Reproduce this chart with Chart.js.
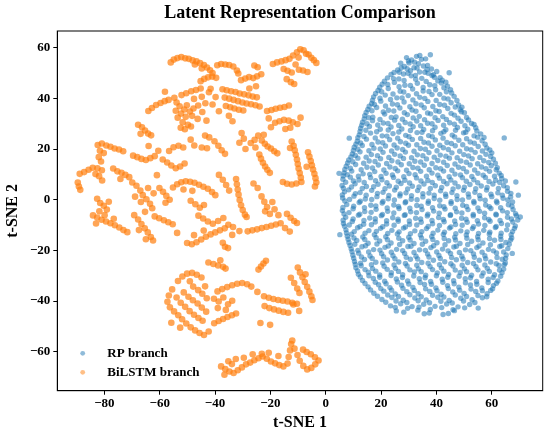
<!DOCTYPE html>
<html>
<head>
<meta charset="utf-8">
<script src="https://cdn.jsdelivr.net/npm/chart.js@4.4.1/dist/chart.umd.min.js"></script>
<style>
html,body{margin:0;padding:0;background:#fff;}
#wrap{width:550px;height:435px;}
</style>
</head>
<body>
<div id="wrap"><canvas id="c" width="550" height="435" style="width:550px;height:435px"></canvas></div>
<script>
const seriesNames = ['RP branch', 'BiLSTM branch'];
const xTickValues = [-80, -60, -40, -20, 0, 20, 40, 60];
const yTickValues = [-60, -40, -20, 0, 20, 40, 60];

const rpPoints = [
[29.2,56.1],[31.0,55.2],[32.8,56.6],[34.6,55.4],[30.1,54.0],[33.5,53.7],[28.4,52.6],[31.9,52.1],[35.3,52.8],[30.6,50.9],[33.9,50.4],
[27.1,53.9],[36.8,53.0],[38.2,51.6],[26.0,51.2],
[24.7,50.2],[28.1,49.6],[37.0,49.9],[40.1,50.6],
[22.3,48.1],[26.4,47.7],[30.9,48.9],[34.7,47.9],[39.3,48.3],[42.1,47.2],
[20.4,45.6],[24.8,46.3],[28.6,45.2],[33.1,46.0],[37.6,45.4],[41.8,46.1],[44.0,44.8],
[18.9,43.1],[22.6,43.9],[26.9,42.8],[31.4,43.7],[35.2,42.9],[39.7,43.4],[43.6,42.6],
[17.3,40.6],[21.5,41.3],[25.7,40.2],[29.8,41.1],[34.0,40.4],[38.4,41.5],[42.7,40.1],[46.4,40.8],
[16.6,38.0],[19.9,38.9],[24.1,37.8],[28.3,38.6],[32.6,37.9],[36.9,38.8],[41.2,37.6],[45.3,38.3],[48.0,37.4],
[15.2,35.6],[18.4,36.4],[22.7,35.3],[26.8,36.2],[31.2,35.4],[35.6,36.3],[39.8,35.1],[44.1,36.0],[48.6,35.5],[50.1,34.3],
[14.1,33.2],[17.0,32.6],[21.3,33.8],[25.4,32.7],[29.5,33.6],[33.8,32.9],[37.9,33.9],[42.3,32.8],[46.5,33.4],[50.9,32.5],
[13.3,30.6],[16.9,31.2],[20.8,30.3],[24.9,31.4],[28.7,30.5],[32.9,31.1],[36.8,30.2],[40.6,31.3],[44.8,30.4],[48.9,31.0],[52.7,30.1],
[12.6,28.2],[15.8,28.9],[19.7,27.8],[23.6,28.7],[27.5,27.9],[31.6,28.8],[35.4,27.7],[39.5,28.6],[43.4,27.6],[47.6,28.5],[51.3,27.8],[54.2,28.4],
[12.1,25.6],[16.2,26.3],[20.4,25.2],[24.3,26.1],[28.9,25.4],[33.0,26.5],[37.2,25.3],[41.6,26.2],[45.7,25.5],[49.8,26.4],[53.6,25.2],[56.0,26.0],
[11.4,23.1],[14.7,23.9],[18.9,22.8],[23.1,23.7],[27.0,22.9],[31.3,23.8],[35.5,22.7],[39.6,23.6],[43.8,22.6],[48.1,23.5],[52.2,22.8],[56.5,23.3],
[10.3,20.7],[13.2,21.4],[17.4,20.3],[21.6,21.2],[25.8,20.4],[29.9,21.5],[34.2,20.2],[38.4,21.1],[42.5,20.5],[46.8,21.3],[50.9,20.1],[55.1,21.0],[58.2,20.4],
[9.6,18.1],[12.4,18.9],[16.5,17.8],[20.7,18.7],[24.9,17.9],[28.8,18.8],[33.1,17.7],[37.3,18.6],[41.4,17.6],[45.6,18.5],[49.9,17.8],[54.0,18.7],[57.9,17.9],[60.0,18.5],
[8.3,15.7],[11.6,16.4],[15.7,15.3],[19.8,16.2],[23.9,15.4],[28.1,16.3],[32.2,15.2],[36.4,16.1],[40.5,15.5],[44.7,16.4],[48.8,15.3],[52.9,16.2],[57.1,15.4],[60.6,16.0],
[7.4,13.2],[10.8,13.9],[14.9,12.8],[19.0,13.7],[23.2,12.9],[27.3,13.8],[31.5,12.7],[35.6,13.6],[39.8,12.6],[43.9,13.5],[48.0,12.8],[52.2,13.7],[56.3,12.9],[59.8,13.4],[62.0,12.6],
[6.6,10.6],[9.4,11.3],[13.5,10.2],[17.7,11.1],[21.8,10.4],[26.0,11.4],[30.1,10.3],[34.3,11.2],[38.4,10.5],[42.6,11.3],[46.7,10.1],[50.9,11.0],[55.0,10.4],[59.2,11.2],[62.7,10.5],
[6.2,8.1],[8.9,8.9],[12.0,7.8],[16.2,8.7],[20.3,7.9],[24.5,8.8],[28.6,7.7],[32.8,8.6],[36.9,7.6],[41.1,8.5],[45.2,7.8],[49.4,8.7],[53.5,7.9],[57.7,8.8],[61.4,7.7],[63.6,8.4],
[5.9,5.6],[10.6,6.3],[14.7,5.2],[18.9,6.1],[23.0,5.4],[27.2,6.4],[31.3,5.3],[35.5,6.2],[39.6,5.5],[43.8,6.3],[47.9,5.1],[52.1,6.0],[56.2,5.4],[60.4,6.2],[64.3,5.5],
[6.8,3.1],[8.3,3.9],[12.4,2.8],[16.6,3.7],[20.7,2.9],[24.9,3.8],[29.0,2.7],[33.2,3.6],[37.3,2.6],[41.5,3.5],[45.6,2.8],[49.8,3.7],[53.9,2.9],[58.1,3.8],[62.2,2.7],[65.7,3.3],
[6.1,0.7],[10.2,1.4],[14.3,0.3],[18.5,1.2],[22.6,0.4],[26.8,1.5],[30.9,0.2],[35.1,1.1],[39.2,0.5],[43.4,1.3],[47.5,0.1],[51.7,1.0],[55.8,0.4],[60.0,1.2],[64.1,0.6],[66.8,1.1],
[7.6,-1.9],[12.1,-1.1],[16.3,-2.2],[20.4,-1.3],[24.6,-2.1],[28.7,-1.2],[32.9,-2.3],[37.0,-1.4],[41.2,-2.4],[45.3,-1.5],[49.5,-2.2],[53.6,-1.3],[57.8,-2.1],[61.9,-1.2],[66.0,-2.0],
[6.0,-4.3],[9.9,-3.6],[14.1,-4.7],[18.2,-3.8],[22.4,-4.6],[26.5,-3.5],[30.7,-4.8],[34.8,-3.9],[39.0,-4.5],[43.1,-3.7],[47.3,-4.8],[51.4,-3.9],[55.6,-4.6],[59.7,-3.5],[63.9,-4.4],[67.7,-3.9],
[7.2,-6.9],[11.8,-6.1],[15.9,-7.2],[20.1,-6.3],[24.2,-7.1],[28.4,-6.2],[32.5,-7.3],[36.7,-6.4],[40.8,-7.0],[45.0,-6.2],[49.1,-7.3],[53.3,-6.4],[57.4,-7.1],[61.6,-6.0],[65.7,-6.9],[68.9,-6.3],
[6.4,-9.4],[9.6,-8.6],[13.7,-9.7],[17.9,-8.8],[22.0,-9.6],[26.2,-8.5],[30.3,-9.8],[34.5,-8.9],[38.6,-9.5],[42.8,-8.7],[46.9,-9.8],[51.1,-8.9],[55.2,-9.6],[59.4,-8.5],[63.5,-9.4],[67.6,-8.8],
[7.3,-11.9],[11.5,-11.1],[15.6,-12.2],[19.8,-11.3],[23.9,-12.1],[28.1,-11.2],[32.2,-12.3],[36.4,-11.4],[40.5,-12.0],[44.7,-11.2],[48.8,-12.3],[53.0,-11.4],[57.1,-12.1],[61.3,-11.0],[65.4,-11.9],[68.2,-11.3],
[7.8,-14.4],[9.3,-13.6],[13.4,-14.7],[17.6,-13.8],[21.7,-14.6],[25.9,-13.5],[30.0,-14.8],[34.2,-13.9],[38.3,-14.5],[42.5,-13.7],[46.6,-14.8],[50.8,-13.9],[54.9,-14.6],[59.1,-13.5],[63.2,-14.4],[67.0,-13.8],
[8.4,-16.9],[11.2,-16.1],[15.3,-17.2],[19.5,-16.3],[23.6,-17.1],[27.8,-16.2],[31.9,-17.3],[36.1,-16.4],[40.2,-17.0],[44.4,-16.2],[48.5,-17.3],[52.7,-16.4],[56.8,-17.1],[61.0,-16.0],[65.1,-16.9],[66.8,-15.9],
[9.2,-19.4],[13.1,-18.6],[17.3,-19.7],[21.4,-18.8],[25.6,-19.6],[29.7,-18.5],[33.9,-19.8],[38.0,-18.9],[42.2,-19.5],[46.3,-18.7],[50.5,-19.8],[54.6,-18.9],[58.8,-19.6],[62.9,-18.5],[65.8,-19.3],
[9.8,-21.9],[11.9,-21.1],[16.0,-22.2],[20.2,-21.3],[24.3,-22.1],[28.5,-21.2],[32.6,-22.3],[36.8,-21.4],[40.9,-22.0],[45.1,-21.2],[49.2,-22.3],[53.4,-21.4],[57.5,-22.1],[61.7,-21.0],[65.2,-21.8],
[10.4,-24.4],[14.0,-23.6],[18.1,-24.7],[22.3,-23.8],[26.4,-24.6],[30.6,-23.5],[34.7,-24.8],[38.9,-23.9],[43.0,-24.5],[47.2,-23.7],[51.3,-24.8],[55.5,-23.9],[59.6,-24.6],[63.8,-23.5],[64.9,-25.0],
[10.9,-26.9],[12.8,-26.1],[16.9,-27.2],[21.1,-26.3],[25.2,-27.1],[29.4,-26.2],[33.5,-27.3],[37.7,-26.4],[41.8,-27.0],[46.0,-26.2],[50.1,-27.3],[54.3,-26.4],[58.4,-27.1],[62.6,-26.0],[64.3,-27.4],
[11.8,-29.4],[15.4,-28.6],[19.5,-29.7],[23.7,-28.8],[27.8,-29.6],[32.0,-28.5],[36.1,-29.8],[40.3,-28.9],[44.4,-29.5],[48.6,-28.7],[52.7,-29.8],[56.9,-28.9],[61.0,-29.6],[63.7,-28.8],
[13.3,-31.9],[17.2,-31.1],[21.3,-32.2],[25.5,-31.3],[29.6,-32.1],[33.8,-31.2],[37.9,-32.3],[42.1,-31.4],[46.2,-32.0],[50.4,-31.2],[54.5,-32.3],[58.7,-31.4],[62.2,-32.1],
[15.3,-34.4],[19.1,-33.6],[23.2,-34.7],[27.4,-33.8],[31.5,-34.6],[35.7,-33.5],[39.8,-34.8],[44.0,-33.9],[48.1,-34.5],[52.3,-33.7],[56.4,-34.8],[60.6,-33.9],
[17.4,-36.9],[21.0,-36.1],[25.1,-37.2],[29.3,-36.3],[33.4,-37.1],[37.6,-36.2],[41.7,-37.3],[45.9,-36.4],[50.0,-37.0],[54.2,-36.2],[58.3,-37.1],[59.6,-35.8],
[20.3,-39.4],[23.9,-38.6],[28.0,-39.7],[32.2,-38.8],[36.3,-39.6],[40.5,-38.5],[44.6,-39.8],[48.8,-38.9],[52.9,-39.5],[56.6,-38.7],
[23.4,-41.9],[27.1,-41.1],[31.2,-42.2],[35.4,-41.3],[39.5,-42.1],[43.7,-41.2],[47.8,-42.3],[52.0,-41.4],
[28.2,-44.4],[33.3,-43.6],[37.4,-44.7],[42.4,-45.3],[46.5,-43.8],[25.5,-43.9],
[4.8,10.4],[5.1,-13.8],[69.6,1.8],[68.7,7.0],[70.3,-6.8],[67.4,-21.2],[55.1,-42.8],[37.8,57.2],[44.6,50.1],[8.5,24.3],[64.5,24.4],
[29.9,54.8],[32.1,54.3],[34.0,56.9],[36.1,55.6],
[27.3,52.0],[29.4,51.7],[33.0,52.0],[36.6,51.4],[38.9,49.3],
[23.6,49.4],[26.6,50.3],[29.7,49.9],[32.4,49.1],[35.8,50.3],[38.4,49.0],[41.3,48.2],
[21.2,46.8],[24.5,47.8],[28.3,47.1],[32.5,47.6],[36.3,46.7],[40.5,46.9],[43.4,46.4],
[19.5,44.4],[22.4,45.5],[26.5,44.6],[30.6,45.1],[35.2,44.3],[39.4,45.0],[42.7,44.2],[45.1,43.4],
[18.0,41.9],[20.2,42.6],[24.3,41.7],[28.2,42.5],[32.8,41.8],[37.3,42.7],[41.2,41.6],[45.5,42.1],
[16.9,39.3],[19.6,40.1],[23.4,39.6],[27.6,40.2],[31.5,39.4],[35.8,40.0],[39.9,39.2],[44.2,39.8],[47.4,39.2],
[15.7,36.9],[17.6,37.6],[21.6,37.0],[25.9,37.5],[30.4,36.7],[34.5,37.4],[38.7,36.8],[42.9,37.3],[46.8,36.6],[49.2,36.5],
[14.6,34.4],[16.7,35.1],[20.8,34.6],[24.6,35.0],[28.4,34.3],[32.6,34.9],[36.8,34.2],[41.0,34.8],[45.3,34.1],[49.0,34.7],
[13.9,31.9],[15.5,32.4],[19.6,31.7],[23.7,32.5],[27.7,31.8],[31.6,32.3],[35.7,31.6],[39.5,32.4],[43.6,31.7],[47.8,32.2],[51.6,31.5],
[13.0,29.4],[14.9,30.0],[18.8,29.5],[22.5,30.1],[26.4,29.3],[30.5,29.9],[34.3,29.2],[38.4,30.0],[42.6,29.4],[46.5,29.8],[50.3,29.2],[53.6,29.7],
[12.4,26.9],[14.5,27.4],[18.4,26.8],[22.6,27.5],[26.4,26.7],[30.6,27.3],[34.8,26.6],[38.6,27.2],[42.7,26.8],[46.9,27.4],[50.6,26.6],[54.6,27.1],
[11.6,24.5],[13.8,25.0],[17.9,24.4],[22.1,25.1],[26.0,24.3],[30.1,24.9],[34.3,24.2],[38.5,24.9],[42.4,24.3],[46.6,24.8],[50.9,24.1],[54.9,24.7],[57.2,24.6],
[10.9,21.9],[12.6,22.4],[16.7,21.8],[20.6,22.5],[24.7,21.6],[28.9,22.3],[32.9,21.7],[37.1,22.4],[41.2,21.5],[45.4,22.2],[49.5,21.7],[53.7,22.3],[57.6,21.9],
[10.0,19.4],[11.6,19.9],[15.6,19.3],[19.7,20.0],[23.8,19.2],[27.8,19.8],[31.9,19.1],[36.0,19.9],[40.2,19.3],[44.3,19.8],[48.4,19.1],[52.5,19.7],[56.6,19.2],[59.3,19.6],
[9.1,16.9],[10.7,17.5],[14.6,16.8],[18.7,17.4],[22.8,16.7],[26.9,17.3],[31.0,16.6],[35.1,17.4],[39.2,16.8],[43.4,17.2],[47.5,16.6],[51.6,17.3],[55.7,16.7],[59.6,17.1],
[7.9,14.5],[9.8,15.0],[13.7,14.4],[17.8,15.1],[22.0,14.3],[26.1,14.9],[30.2,14.2],[34.3,14.9],[38.4,14.3],[42.6,14.8],[46.7,14.1],[50.8,14.8],[54.9,14.2],[58.9,14.7],[61.3,14.4],
[6.9,11.9],[8.9,12.4],[12.8,11.8],[16.9,12.5],[21.0,11.7],[25.1,12.3],[29.2,11.6],[33.3,12.4],[37.4,11.8],[41.5,12.2],[45.6,11.6],[49.7,12.3],[53.8,11.7],[57.9,12.2],[61.6,11.8],
[6.3,9.4],[7.8,9.9],[11.8,9.3],[15.9,10.0],[20.0,9.2],[24.1,9.8],[28.2,9.1],[32.3,9.9],[36.4,9.3],[40.5,9.7],[44.6,9.1],[48.7,9.8],[52.8,9.2],[56.9,9.7],[61.0,9.3],[63.4,9.6],
[7.2,6.9],[10.0,7.4],[13.9,6.8],[18.0,7.5],[22.1,6.7],[26.2,7.3],[30.3,6.6],[34.4,7.4],[38.5,6.8],[42.6,7.2],[46.7,6.6],[50.8,7.3],[54.9,6.7],[59.0,7.2],[62.9,6.8],[64.9,7.4],
[6.4,4.5],[9.3,5.0],[13.2,4.4],[17.3,5.1],[21.4,4.3],[25.5,4.9],[29.6,4.2],[33.7,5.0],[37.8,4.4],[41.9,4.8],[46.0,4.2],[50.1,4.9],[54.2,4.3],[58.3,4.8],[62.4,4.4],[65.6,4.7],
[6.0,1.9],[10.7,2.4],[14.6,1.8],[18.7,2.5],[22.8,1.7],[26.9,2.3],[31.0,1.6],[35.1,2.4],[39.2,1.8],[43.3,2.2],[47.4,1.6],[51.5,2.3],[55.6,1.7],[59.7,2.2],[63.8,1.8],[66.9,2.5],
[6.9,-0.5],[8.6,0.1],[12.5,-0.6],[16.6,0.1],[20.7,-0.7],[24.8,-0.1],[28.9,-0.8],[33.0,0.0],[37.1,-0.6],[41.2,-0.2],[45.3,-0.8],[49.4,-0.1],[53.5,-0.7],[57.6,-0.2],[61.7,-0.6],[65.8,-0.1],[67.5,-0.9],
[6.2,-3.1],[10.1,-2.6],[14.0,-3.2],[18.1,-2.5],[22.2,-3.3],[26.3,-2.7],[30.4,-3.4],[34.5,-2.6],[38.6,-3.2],[42.7,-2.8],[46.8,-3.4],[50.9,-2.7],[55.0,-3.3],[59.1,-2.8],[63.2,-3.2],[67.3,-2.6],
[6.6,-5.6],[8.4,-5.1],[12.3,-5.7],[16.4,-5.0],[20.5,-5.8],[24.6,-5.2],[28.7,-5.9],[32.8,-5.1],[36.9,-5.7],[41.0,-5.3],[45.1,-5.9],[49.2,-5.2],[53.3,-5.8],[57.4,-5.3],[61.5,-5.7],[65.6,-5.1],[68.6,-5.5],
[6.3,-8.1],[9.9,-7.6],[13.8,-8.2],[17.9,-7.5],[22.0,-8.3],[26.1,-7.7],[30.2,-8.4],[34.3,-7.6],[38.4,-8.2],[42.5,-7.8],[46.6,-8.4],[50.7,-7.7],[54.8,-8.3],[58.9,-7.8],[63.0,-8.2],[67.1,-7.6],[69.4,-8.0],
[6.8,-10.5],[8.5,-10.0],[12.4,-10.6],[16.5,-9.9],[20.6,-10.7],[24.7,-10.1],[28.8,-10.8],[32.9,-10.0],[37.0,-10.6],[41.1,-10.2],[45.2,-10.8],[49.3,-10.1],[53.4,-10.7],[57.5,-10.2],[61.6,-10.6],[65.7,-10.0],[68.5,-10.4],
[7.5,-13.1],[10.3,-12.6],[14.2,-13.2],[18.3,-12.5],[22.4,-13.3],[26.5,-12.7],[30.6,-13.4],[34.7,-12.6],[38.8,-13.2],[42.9,-12.8],[47.0,-13.4],[51.1,-12.7],[55.2,-13.3],[59.3,-12.8],[63.4,-13.2],[67.5,-12.6],
[8.1,-15.6],[10.2,-15.1],[14.1,-15.7],[18.2,-15.0],[22.3,-15.8],[26.4,-15.2],[30.5,-15.9],[34.6,-15.1],[38.7,-15.7],[42.8,-15.3],[46.9,-15.9],[51.0,-15.2],[55.1,-15.8],[59.2,-15.3],[63.3,-15.7],[67.2,-15.1],
[8.8,-18.1],[10.5,-17.6],[14.4,-18.2],[18.5,-17.5],[22.6,-18.3],[26.7,-17.7],[30.8,-18.4],[34.9,-17.6],[39.0,-18.2],[43.1,-17.8],[47.2,-18.4],[51.3,-17.7],[55.4,-18.3],[59.5,-17.8],[63.6,-18.2],[66.3,-17.6],
[9.5,-20.5],[11.6,-20.0],[15.5,-20.6],[19.6,-19.9],[23.7,-20.7],[27.8,-20.1],[31.9,-20.8],[36.0,-20.0],[40.1,-20.6],[44.2,-20.2],[48.3,-20.8],[52.4,-20.1],[56.5,-20.7],[60.6,-20.2],[64.3,-20.6],
[10.1,-23.1],[12.9,-22.6],[16.8,-23.2],[20.9,-22.5],[25.0,-23.3],[29.1,-22.7],[33.2,-23.4],[37.3,-22.6],[41.4,-23.2],[45.5,-22.8],[49.6,-23.4],[53.7,-22.7],[57.8,-23.3],[61.9,-22.8],[65.0,-23.2],
[10.7,-25.6],[12.6,-25.1],[16.5,-25.7],[20.6,-25.0],[24.7,-25.8],[28.8,-25.2],[32.9,-25.9],[37.0,-25.1],[41.1,-25.7],[45.2,-25.3],[49.3,-25.9],[53.4,-25.2],[57.5,-25.8],[61.6,-25.3],[64.5,-25.7],
[11.5,-28.1],[14.2,-27.6],[18.1,-28.2],[22.2,-27.5],[26.3,-28.3],[30.4,-27.7],[34.5,-28.4],[38.6,-27.6],[42.7,-28.2],[46.8,-27.8],[50.9,-28.4],[55.0,-27.7],[59.1,-28.3],[62.8,-27.8],
[12.5,-30.5],[15.6,-30.0],[19.5,-30.6],[23.6,-29.9],[27.7,-30.7],[31.8,-30.1],[35.9,-30.8],[40.0,-30.0],[44.1,-30.6],[48.2,-30.2],[52.3,-30.8],[56.4,-30.1],[60.5,-30.7],[63.2,-30.2],
[14.2,-33.1],[17.9,-32.6],[21.8,-33.2],[25.9,-32.5],[30.0,-33.3],[34.1,-32.7],[38.2,-33.4],[42.3,-32.6],[46.4,-33.2],[50.5,-32.8],[54.6,-33.4],[58.7,-32.7],[61.7,-33.0],
[16.2,-35.6],[19.9,-35.1],[23.8,-35.7],[27.9,-35.0],[32.0,-35.8],[36.1,-35.2],[40.2,-35.9],[44.3,-35.1],[48.4,-35.7],[52.5,-35.3],[56.6,-35.9],[60.3,-35.2],
[18.7,-38.1],[22.4,-37.6],[26.3,-38.2],[30.4,-37.5],[34.5,-38.3],[38.6,-37.7],[42.7,-38.4],[46.8,-37.6],[50.9,-38.2],[55.0,-37.8],[58.2,-38.3],
[21.7,-40.5],[25.4,-40.0],[29.3,-40.6],[33.4,-39.9],[37.5,-40.7],[41.6,-40.1],[45.7,-40.8],[49.8,-40.0],[53.9,-40.6],
[25.1,-42.5],[29.6,-42.9],[33.7,-42.4],[37.8,-43.3],[41.9,-42.6],[46.0,-43.4],[50.2,-42.7],[44.3,-44.9],[35.6,-45.0]
];

const bilstmPoints = [
[-56.0,54.2],[-54.9,55.3],[-53.6,55.9],[-52.2,56.3],[-50.8,55.8],[-49.5,55.6],[-48.1,55.0],[-46.7,54.6],[-45.4,53.9],[-44.0,53.2],[-42.9,52.2],[-41.8,51.1],[-40.9,50.0],[-47.3,53.4],[-44.8,51.8],
[-39.2,53.1],[-37.8,53.6],[-36.3,53.4],[-34.9,53.2],[-33.4,52.6],[-32.1,51.0],[-31.6,49.8],
[-45.2,46.8],[-43.9,47.7],[-42.5,48.3],[-41.0,48.6],[-39.6,48.1],
[-30.6,47.2],[-29.1,47.8],[-27.7,48.4],[-26.2,48.0],[-24.8,48.7],[-23.3,49.5],[-24.6,52.3],[-25.8,53.0],
[-19.1,53.6],[-17.6,54.2],[-16.0,54.6],[-14.5,55.1],[-13.1,55.6],[-11.8,56.9],[-10.4,58.2],[-9.2,59.4],[-8.0,59.0],[-7.1,57.6],[-9.8,56.1],[-6.2,57.3],[-5.2,56.0],[-4.3,55.1],[-3.4,54.0],[-15.2,51.6],[-13.8,50.9],[-12.3,50.2],[-14.1,47.6],[-12.6,46.4],[-11.4,45.7],[-9.7,51.3],[-8.2,51.0],[-6.6,50.4],[-10.9,53.4],
[-64.1,35.0],[-62.8,36.2],[-61.3,37.4],[-59.7,38.2],[-58.2,38.9],[-56.8,39.4],[-58.1,42.6],
[-54.7,40.2],[-53.9,38.4],[-52.8,36.9],[-54.2,35.1],[-52.3,34.0],[-51.1,35.6],[-50.2,37.3],[-49.1,34.8],[-50.6,32.7],[-48.3,33.1],[-53.5,32.4],[-51.7,30.6],[-49.8,29.6],[-52.4,28.4],[-50.9,27.8],[-48.7,28.9],[-52.1,41.3],[-50.4,42.0],[-48.6,42.8],[-46.9,43.3],[-45.2,43.9],[-47.6,39.8],[-46.1,37.2],[-44.8,40.6],[-43.5,38.1],[-42.2,42.4],[-44.6,34.6],[-46.3,31.9],[-43.1,31.2],[-47.8,36.0],
[-67.8,29.6],[-66.4,28.6],[-65.3,27.3],[-64.2,26.1],[-63.1,25.4],[-66.9,26.0],[-64.0,21.2],
[-37.3,43.6],[-35.8,43.2],[-34.2,42.8],[-32.6,42.5],[-31.1,41.9],[-29.5,41.6],[-27.9,41.2],[-26.4,40.7],[-24.9,40.4],[-36.5,40.3],[-34.9,39.9],[-33.3,39.4],[-31.7,38.9],[-30.1,38.4],[-28.6,38.0],[-27.0,37.7],[-25.4,37.3],[-23.9,36.8],[-36.1,37.0],[-34.5,36.5],[-33.0,36.0],[-31.4,35.5],[-29.8,35.2],[-35.0,33.1],[-33.7,31.0],[-39.8,40.5],[-40.9,37.6],[-38.6,34.9],[-41.6,43.8],[-27.6,43.9],[-25.2,44.8],
[-21.2,35.0],[-19.6,35.4],[-18.1,35.9],[-16.5,36.3],[-14.9,36.6],[-13.3,37.2],
[-20.6,32.1],[-18.3,30.4],[-16.7,31.0],[-15.1,31.5],[-13.4,31.2],[-11.9,30.6],[-10.2,29.9],[-14.6,27.9],[-12.8,28.4],[-19.8,28.6],[-9.1,32.4],
[-27.1,22.4],[-25.7,23.6],[-24.4,25.3],[-23.1,23.4],[-22.0,22.1],[-21.0,21.0],[-19.8,20.2],[-18.6,19.1],[-17.5,18.3],[-22.4,25.6],[-25.4,20.6],[-29.0,20.0],
[-24.0,17.8],[-23.4,16.2],[-22.7,14.6],[-21.9,13.1],[-21.1,11.8],[-20.2,10.6],
[-12.3,23.0],[-11.6,21.3],[-11.2,19.5],[-10.8,17.7],[-10.4,15.9],[-10.1,14.1],[-9.8,12.3],[-9.4,10.5],[-9.0,8.7],[-8.8,7.0],[-10.6,6.4],[-12.3,6.0],[-14.0,6.3],[-15.5,7.0],[-12.9,20.4],
[-6.4,18.7],[-5.9,17.0],[-5.4,15.3],[-5.0,13.6],[-4.6,11.9],[-4.1,10.2],[-3.7,8.5],[-3.4,6.8],[-3.9,5.2],[-6.9,13.0],
[-82.4,21.6],[-80.9,22.2],[-79.3,21.4],[-77.8,20.9],[-76.3,20.2],[-74.7,19.8],[-73.2,19.1],[-81.6,19.3],[-80.2,18.4],[-82.0,16.8],[-81.2,15.1],
[-69.6,17.4],[-68.1,16.8],[-66.6,16.1],[-65.0,15.7],[-63.4,16.4],[-61.8,17.2],[-60.5,19.3],
[-88.9,10.2],[-87.3,10.9],[-85.7,11.8],[-84.2,12.6],[-82.5,12.4],[-80.9,11.6],[-83.2,10.1],
[-89.6,6.8],[-89.2,5.2],[-88.7,3.9],
[-81.9,9.3],[-80.8,7.6],
[-76.8,12.3],[-75.3,11.2],[-73.8,10.6],[-72.4,9.8],[-71.0,8.9],[-74.2,8.2],
[-58.9,15.9],[-57.3,14.7],[-55.8,13.5],[-54.2,12.4],[-52.6,13.1],[-51.0,14.3],[-56.6,19.2],[-55.0,20.7],[-53.2,21.3],[-51.5,20.6],[-61.0,9.7],
[-55.2,4.8],[-53.7,6.1],[-52.2,6.9],[-50.6,7.3],[-49.0,7.1],[-47.4,6.7],[-45.8,5.9],[-44.2,5.1],[-42.6,4.3],[-41.1,3.0],[-39.9,1.8],[-51.4,4.0],[-48.2,3.5],
[-69.9,6.8],[-68.4,5.5],[-67.0,3.6],[-66.1,1.8],[-64.8,0.2],[-63.5,-1.6],[-62.7,-3.4],[-66.8,-0.9],[-68.9,1.2],[-64.2,4.6],[-62.2,2.5],[-65.3,-4.8],
[-82.6,0.4],[-81.5,-1.3],[-80.2,-2.4],[-79.1,-3.9],[-81.8,-4.6],[-78.4,-0.8],
[-60.1,4.6],[-58.8,3.1],[-57.6,1.5],[-56.4,0.0],[-57.9,-1.2],
[-84.1,-6.2],[-82.6,-7.0],[-81.0,-7.9],[-79.4,-8.6],[-77.8,-9.3],[-76.2,-10.1],[-74.6,-11.0],[-73.1,-12.0],[-71.7,-12.8],[-79.9,-6.1],[-76.6,-7.5],[-83.0,-9.4],
[-69.2,-6.1],[-67.8,-7.8],[-66.6,-9.6],[-65.4,-11.3],[-64.3,-12.9],[-63.2,-14.7],[-62.4,-16.1],[-65.0,-15.6],[-67.5,-12.0],
[-61.8,-6.6],[-60.2,-7.3],[-58.5,-8.1],[-56.9,-8.9],[-55.3,-9.7],[-53.7,-13.1],
[-50.1,-17.1],[-48.4,-17.6],[-46.7,-16.8],[-45.0,-15.7],[-43.3,-14.6],[-41.6,-13.7],[-39.9,-12.9],[-38.2,-12.1],[-36.5,-11.3],[-36.4,-18.6],[-47.6,-14.0],[-44.1,-12.2],
[-46.0,-6.3],[-44.3,-7.4],[-42.6,-8.6],[-40.8,-9.5],[-38.9,-8.4],[-37.0,-7.2],[-35.2,-9.9],[-33.5,-10.8],
[-48.8,-0.4],[-47.1,-1.8],[-45.5,-3.2],[-44.0,-2.1],
[-32.4,8.2],[-32.1,6.1],[-31.8,4.0],[-31.5,2.0],[-31.1,-0.1],[-30.6,-2.2],[-30.0,-4.1],[-29.2,-5.9],[-28.6,-6.8],
[-26.1,6.4],[-24.6,4.6],[-23.2,1.3],[-22.2,-0.8],[-21.2,-2.9],
[-21.9,-4.6],[-20.2,-5.6],[-18.5,-3.8],[-17.1,-6.1],[-19.3,-0.9],
[-14.0,-5.6],[-12.7,-7.1],[-11.4,-8.4],[-10.4,-9.2],
[-28.2,-12.5],[-26.5,-12.1],[-24.8,-11.7],[-23.1,-11.2],[-21.4,-10.8],[-19.7,-10.3],[-18.0,-9.8],[-16.3,-9.3],[-14.7,-11.2],[-13.0,-12.6],[-33.8,-13.9],[-31.2,-12.4],
[-37.2,-17.0],[-35.3,-19.1],
[-42.4,-24.8],[-40.6,-25.4],[-38.9,-26.0],[-37.1,-26.5],[-38.1,-23.9],[-36.2,-27.2],
[-24.3,-27.6],[-23.4,-26.4],[-22.5,-25.2],[-21.6,-24.1],
[-53.4,-32.1],[-51.8,-30.3],[-50.1,-29.2],[-48.3,-28.9],[-46.6,-29.6],[-44.9,-30.7],[-55.5,-35.4],[-56.7,-37.8],[-57.2,-40.3],[-56.3,-42.5],[-54.8,-44.1],[-53.3,-45.6],[-51.9,-47.2],[-50.4,-48.9],[-48.8,-50.4],[-47.2,-51.6],[-45.6,-52.6],[-44.0,-53.4],[-42.3,-52.0],[-53.9,-38.6],[-52.4,-40.7],[-50.8,-42.3],[-49.2,-44.0],[-47.6,-45.4],[-46.0,-46.7],[-44.5,-47.8],[-51.3,-36.6],[-49.6,-38.3],[-48.0,-39.7],[-46.3,-41.0],[-44.8,-42.6],[-43.2,-44.2],[-47.9,-34.3],[-46.1,-35.7],[-44.6,-37.1],[-43.0,-38.9],[-52.6,-50.5],[-49.1,-32.2],[-55.8,-48.6],[-43.6,-34.2],
[-39.1,-36.2],[-37.4,-35.3],[-35.6,-34.5],[-33.8,-33.8],[-32.0,-33.2],[-30.2,-32.9],[-28.4,-33.4],[-26.9,-34.3],
[-40.4,-39.1],[-38.7,-40.2],[-37.0,-38.6],[-35.3,-41.3],[-33.8,-39.9],[-39.0,-42.8],[-36.1,-43.5],
[-40.3,-48.8],[-38.7,-47.9],[-37.1,-47.1],[-35.5,-46.3],[-33.9,-45.6],[-32.4,-44.9],
[-22.3,-38.1],[-20.6,-38.7],[-18.9,-39.2],[-17.2,-39.6],[-15.5,-39.9],[-13.8,-40.2],[-12.1,-40.7],[-10.4,-41.1],[-22.1,-42.0],[-20.4,-42.8],[-18.7,-43.3],[-17.0,-43.8],[-15.3,-44.3],[-13.6,-44.6],[-11.7,-41.4],[-9.6,-43.9],[-24.7,-36.4],[-23.6,-48.7],[-20.1,-49.4],
[-10.1,-26.8],[-9.3,-28.7],[-8.4,-30.6],[-7.6,-32.5],[-6.7,-34.4],[-5.9,-36.3],[-5.2,-38.1],[-4.8,-39.6],[-12.6,-30.8],[-11.4,-32.9],[-10.3,-35.1],[-9.5,-36.8],[-7.3,-29.4],
[-37.8,-65.8],[-36.3,-66.9],[-34.8,-67.8],[-33.3,-68.4],[-31.8,-67.3],[-30.3,-66.2],[-28.8,-65.0],[-27.3,-64.3],[-25.8,-63.4],[-24.3,-62.6],[-22.8,-61.9],[-21.3,-62.8],[-19.8,-63.9],[-18.3,-64.6],[-16.8,-65.3],[-15.3,-65.8],[-13.8,-64.7],[-13.4,-62.1],[-12.9,-59.5],[-12.5,-57.0],[-12.1,-55.6],[-11.3,-58.8],[-10.2,-61.3],[-9.4,-63.6],[-8.1,-65.6],[-6.7,-67.0],[-5.2,-66.4],[-3.8,-65.0],[-2.6,-63.5],[-3.9,-62.2],[-5.4,-61.0],[-6.9,-60.1],[-8.2,-59.2],[-35.2,-63.8],[-32.5,-62.9],[-29.6,-62.4],[-26.4,-61.0],[-23.1,-60.8],[-20.6,-60.4],[-17.1,-61.7],[-36.6,-69.1],[-33.9,-64.9],
[-43.6,25.3],[-42.1,24.6],[-40.2,23.1],[-38.8,21.3],[-37.6,19.5],[-36.4,18.1],[-44.8,20.6],[-42.9,20.3],
[-48.8,23.7],[-47.5,21.4],[-30.4,26.3],[-29.6,24.1],[-31.2,22.5],
[-38.6,9.8],[-37.2,7.9],[-36.0,5.8],[-34.9,3.6]
];

const FONT = 'Liberation Serif';
const fmt = v => String(v).replace('-', '\u2212');
const toXY = arr => arr.map(p => ({x: p[0], y: p[1]}));

const frameAndLegend = {
  id: 'frameAndLegend',
  afterDraw(chart) {
    const {ctx, chartArea: ca} = chart;
    ctx.save();
    ctx.strokeStyle = '#000';
    ctx.lineWidth = 1;
    ctx.strokeRect(ca.left, ca.top, ca.right - ca.left, ca.bottom - ca.top);
    const items = chart.data.datasets.map(d => ({label: d.label, color: d.legendColor}));
    const lx = ca.left + 25.4;
    const tx = ca.left + 50;
    const ys = [ca.bottom - 37.4, ca.bottom - 18.4];
    ctx.font = 'bold 13px "' + FONT + '"';
    ctx.textBaseline = 'middle';
    ctx.textAlign = 'left';
    items.forEach((it, i) => {
      ctx.fillStyle = it.color;
      ctx.beginPath();
      ctx.arc(lx, ys[i], 2.4, 0, Math.PI * 2);
      ctx.fill();
      ctx.fillStyle = '#000';
      ctx.fillText(it.label, tx, ys[i]);
    });
    ctx.restore();
  }
};

const tickFont = {family: FONT, size: 13, weight: 'bold'};
const axisTitleFont = {family: FONT, size: 16, weight: 'bold'};

new Chart(document.getElementById('c'), {
  type: 'scatter',
  data: {
    datasets: [
      {label: seriesNames[0], data: toXY(rpPoints), backgroundColor: 'rgba(31,119,180,0.55)', legendColor: 'rgba(31,119,180,0.5)', borderWidth: 0, pointRadius: 2.7},
      {label: seriesNames[1], data: toXY(bilstmPoints), backgroundColor: 'rgba(255,127,14,0.7)', legendColor: 'rgba(255,127,14,0.5)', borderWidth: 0, pointRadius: 3.3}
    ]
  },
  options: {
    responsive: false,
    animation: false,
    layout: {padding: {left: 0, right: 7.3, top: 0, bottom: 0}},
    plugins: {
      legend: {display: false},
      tooltip: {enabled: false},
      title: {
        display: true,
        text: 'Latent Representation Comparison',
        color: '#000',
        fullSize: false,
        font: {family: FONT, size: 18, weight: 'bold'},
        padding: {top: 2.7, bottom: 6.7}
      }
    },
    scales: {
      x: {
        type: 'linear',
        min: -97,
        max: 78.4,
        afterBuildTicks: s => { s.ticks = xTickValues.map(v => ({value: v})); },
        afterFit: s => { s.height = 44.3; },
        ticks: {font: tickFont, color: '#000', padding: 1, callback: v => fmt(v)},
        grid: {drawOnChartArea: false, drawTicks: true, tickLength: 4, color: '#000'},
        border: {display: true, color: '#000', width: 1},
        title: {display: true, text: 't-SNE 1', color: '#000', font: axisTitleFont, padding: {top: 0, bottom: 2.4}}
      },
      y: {
        type: 'linear',
        min: -75.4,
        max: 66.6,
        afterBuildTicks: s => { s.ticks = yTickValues.map(v => ({value: v})); },
        afterFit: s => { s.width = 57.3; },
        ticks: {font: tickFont, color: '#000', padding: 3, callback: v => fmt(v)},
        grid: {drawOnChartArea: false, drawTicks: true, tickLength: 4, color: '#000'},
        border: {display: true, color: '#000', width: 1},
        title: {display: true, text: 't-SNE 2', color: '#000', font: axisTitleFont, padding: {top: 3.4, bottom: 0}}
      }
    }
  },
  plugins: [frameAndLegend]
});
</script>
</body>
</html>
